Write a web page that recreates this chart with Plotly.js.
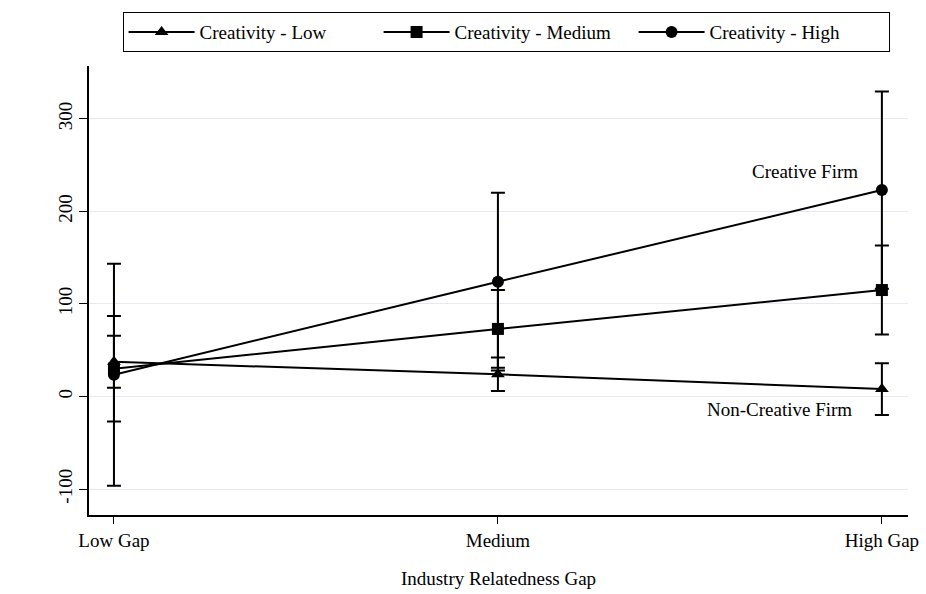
<!DOCTYPE html>
<html>
<head>
<meta charset="utf-8">
<script src="https://cdn.plot.ly/plotly-3.0.1.min.js"></script>
<style>html,body{margin:0;padding:0;background:#fff;}#chart{width:926px;height:594px;}</style>
</head>
<body>
<div id="chart"></div>
<script>
var categories = ["Low Gap", "Medium", "High Gap"];
var seriesNames = ["Creativity - Low", "Creativity - Medium", "Creativity - High"];
var lowValues = [37.5, 24, 8];
var lowErrors = [28, 18, 28];
var mediumValues = [30, 73, 115];
var mediumErrors = [57, 42, 48];
var highValues = [23.5, 124, 223];
var highErrors = [120, 96, 106.5];
var yTickVals = [-100, 0, 100, 200, 300];
var yTickText = ["-100", "0", "100", "200", "300"];
var noteLabels = ["Creative Firm", "Non-Creative Firm"];
var noteX = [1.943, 1.927];
var noteY = [243, -14];

var font = "Liberation Serif, Times New Roman, serif";
function mk(name, vals, errs, sym) {
  return {
    type: "scatter", mode: "lines+markers", name: name,
    x: categories, y: vals,
    line: {color: "#000", width: 2},
    marker: {color: "#000", symbol: sym, size: 12},
    error_y: {type: "data", array: errs, visible: true, color: "#000", thickness: 2, width: 7}
  };
}
var data = [
  mk(seriesNames[0], lowValues, lowErrors, "triangle-up"),
  mk(seriesNames[1], mediumValues, mediumErrors, "square"),
  mk(seriesNames[2], highValues, highErrors, "circle")
];
var layout = {
  width: 926, height: 594,
  margin: {l: 89, r: 18, t: 64, b: 79},
  paper_bgcolor: "#fff", plot_bgcolor: "#fff",
  font: {family: font, size: 19, color: "#000"},
  showlegend: true,
  legend: {
    orientation: "h", x: 0.041, xanchor: "left", y: 1.12, yanchor: "top",
    bordercolor: "#000", borderwidth: 1, itemwidth: 66, entrywidth: 174,
    font: {family: font, size: 19, color: "#000"}
  },
  xaxis: {
    type: "category", range: [-0.065, 2.068],
    showline: true, linecolor: "#000", linewidth: 2,
    ticks: "outside", ticklen: 7, tickcolor: "#000",
    showgrid: false, zeroline: false,
    title: {text: "Industry Relatedness Gap", standoff: 22, font: {family: font, size: 19}}
  },
  yaxis: {
    range: [-128, 357],
    tickvals: yTickVals, ticktext: yTickText, tickangle: -90,
    showline: true, linecolor: "#000", linewidth: 1.5,
    ticks: "outside", ticklen: 8, tickcolor: "#000",
    showgrid: true, gridcolor: "#e6e9f2", gridwidth: 1, zeroline: false
  },
  annotations: noteLabels.map(function (t, i) {
    return {text: t, x: noteX[i], y: noteY[i], xref: "x", yref: "y", xanchor: "right", yanchor: "middle", showarrow: false, font: {family: font, size: 19, color: "#000"}};
  })
};
Plotly.newPlot("chart", data, layout, {displayModeBar: false});
</script>
</body>
</html>
